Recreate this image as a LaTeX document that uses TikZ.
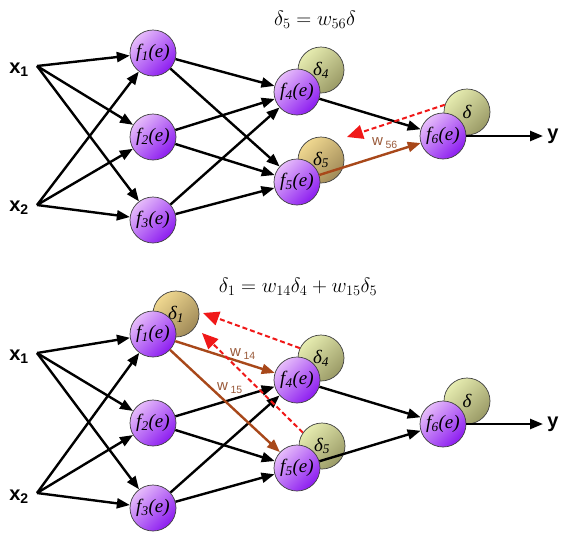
\documentclass[tikz,border=0pt]{standalone}
\usepackage{fontspec}
\setmainfont{Liberation Serif}
\newfontfamily\sansfont{Liberation Sans}
\usetikzlibrary{arrows.meta}
\definecolor{pL}{HTML}{E6BCFA}
\definecolor{pD}{HTML}{8C1CF0}
\definecolor{gL}{HTML}{E6ECB0}
\definecolor{gD}{HTML}{9A9A66}
\definecolor{tL}{HTML}{F0D890}
\definecolor{tD}{HTML}{A08A58}
\definecolor{brn}{HTML}{A8481A}
\definecolor{wcol}{HTML}{9A5A3A}
\definecolor{rd}{HTML}{F01818}
\begin{document}
\begin{tikzpicture}[x=1pt,y=-1pt,
 neuron/.style={circle,draw=black!75,line width=0.7pt,minimum size=46pt,inner sep=0pt,top color=pL,bottom color=pD,shading angle=45,font=\fontsize{19}{19}\selectfont\itshape},
 dgreen/.style={neuron,top color=gL,bottom color=gD,shading angle=45},
 dtan/.style={neuron,top color=tL,bottom color=tD,shading angle=45},
 inlab/.style={font=\sansfont\bfseries\fontsize{20}{20}\selectfont,inner sep=0pt},
 wlab/.style={font=\sansfont\fontsize{15}{15}\selectfont,text=wcol,inner sep=0pt},
 eqn/.style={font=\fontsize{20}{24}\selectfont,inner sep=0pt},
 conn/.style={line width=2.4pt,-{Triangle[length=13pt,width=10pt]}},
 bconn/.style={conn,draw=brn},
 back/.style={draw=rd,line width=2pt,dash pattern=on 5pt off 3pt,-{Triangle[length=16pt,width=14pt]}}
]
\useasboundingbox[fill=white] (0,0) rectangle (566,542);
% ---------------- top network ----------------
\node[eqn] (eqA) at (315,20) {$\delta_5 = w_{56}\delta$};
\node[dgreen] (dA4) at (321,70) {δ\textsubscript{4}};
\node[dtan] (dA5) at (321,160) {δ\textsubscript{5}};
\node[dgreen] (dA6) at (467,112) {δ};
\node[neuron] (fA1) at (153,53) {f\textsubscript{1}(e)};
\node[neuron] (fA2) at (153,137) {f\textsubscript{2}(e)};
\node[neuron] (fA3) at (153,220) {f\textsubscript{3}(e)};
\node[neuron] (fA4) at (297,92) {f\textsubscript{4}(e)};
\node[neuron] (fA5) at (297,182) {f\textsubscript{5}(e)};
\node[neuron] (fA6) at (443,136) {f\textsubscript{6}(e)};
\node[inlab] (xA1) at (19,70) {x\textsubscript{1}};
\node[inlab] (xA2) at (19,208) {x\textsubscript{2}};
\node[inlab] (yA) at (553,136) {y};
\coordinate (xA1s) at (37,66);
\coordinate (xA2s) at (37,205);
\coordinate (yAe) at (543,136);
\coordinate (rA) at (347,137);
\foreach \s in {xA1s,xA2s}{\foreach \t in {fA1,fA2,fA3}{\draw[conn] (\s) -- (\t);}}
\foreach \s in {fA1,fA2,fA3}{\foreach \t in {fA4,fA5}{\draw[conn] (\s) -- (\t);}}
\draw[conn] (fA4) -- (fA6);
\draw[bconn] (fA5) -- (fA6);
\draw[conn] (fA6) -- (yAe);
\draw[back] (dA6.162) -- (rA);
\node[wlab] (wA56) at (385,143) {w\,\textsubscript{56}};
% ---------------- bottom network ----------------
\node[eqn] (eqB) at (298,287) {$\delta_1 = w_{14}\delta_4 + w_{15}\delta_5$};
\node[dtan] (dB1) at (176,314) {δ\textsubscript{1}};
\node[dgreen] (dB4) at (321,358) {δ\textsubscript{4}};
\node[dgreen] (dB5) at (322,446) {δ\textsubscript{5}};
\node[dgreen] (dB6) at (467,401) {δ};
\node[neuron] (fB1) at (153,334) {f\textsubscript{1}(e)};
\node[neuron] (fB2) at (153,423) {f\textsubscript{2}(e)};
\node[neuron] (fB3) at (153,508) {f\textsubscript{3}(e)};
\node[neuron] (fB4) at (297,380) {f\textsubscript{4}(e)};
\node[neuron] (fB5) at (297,468) {f\textsubscript{5}(e)};
\node[neuron] (fB6) at (443,424) {f\textsubscript{6}(e)};
\node[inlab] (xB1) at (19,357) {x\textsubscript{1}};
\node[inlab] (xB2) at (19,497) {x\textsubscript{2}};
\node[inlab] (yB) at (553,424) {y};
\coordinate (xB1s) at (37,353);
\coordinate (xB2s) at (37,493);
\coordinate (yBe) at (543,424);
\coordinate (rB1) at (203,313);
\coordinate (rB2) at (202,333);
\foreach \s in {xB1s,xB2s}{\foreach \t in {fB1,fB2,fB3}{\draw[conn] (\s) -- (\t);}}
\foreach \s in {fB2,fB3}{\foreach \t in {fB4,fB5}{\draw[conn] (\s) -- (\t);}}
\draw[bconn] (fB1) -- (fB4);
\draw[bconn] (fB1) -- (fB5);
\draw[conn] (fB4) -- (fB6);
\draw[conn] (fB5) -- (fB6);
\draw[conn] (fB6) -- (yBe);
\draw[back] (dB4.155) -- (rB1);
\draw[back] (dB5.145) -- (rB2);
\node[wlab] (wB14) at (243,354) {w\,\textsubscript{14}};
\node[wlab] (wB15) at (230,388) {w\,\textsubscript{15}};
\end{tikzpicture}
\end{document}
